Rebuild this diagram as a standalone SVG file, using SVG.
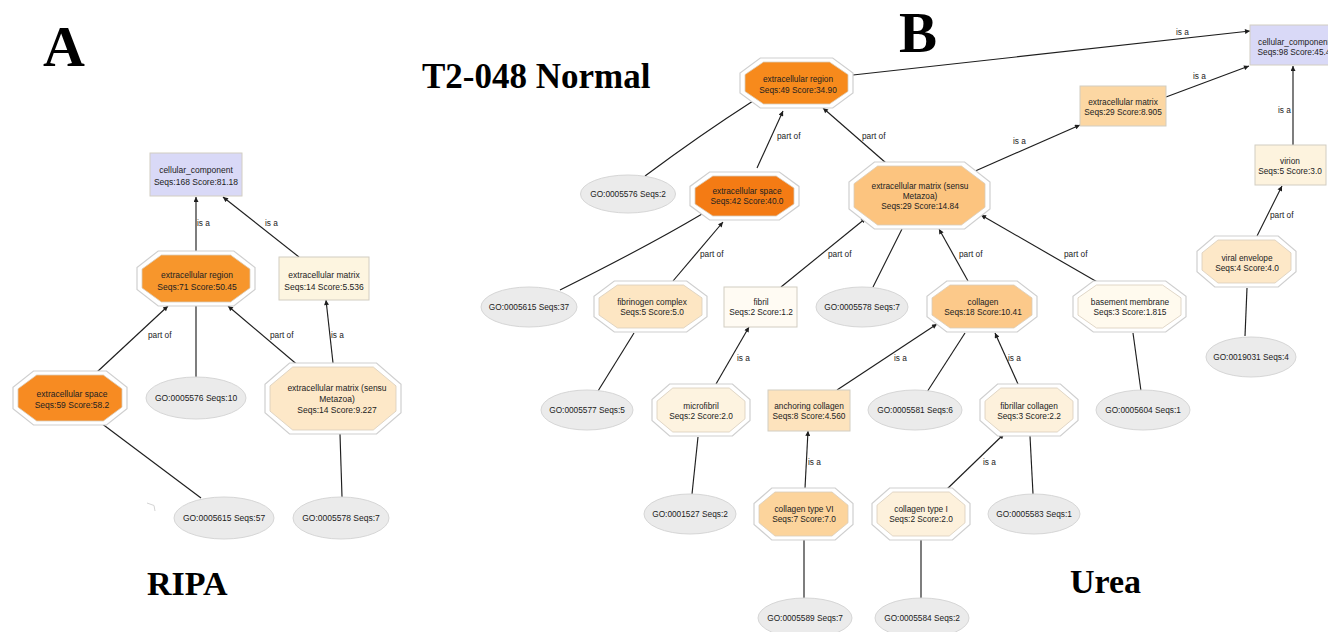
<svg xmlns="http://www.w3.org/2000/svg" width="1328" height="632" viewBox="0 0 1328 632">
  <style>
    .oo { fill: #ffffff; stroke: #cfcfcf; stroke-width: 1.2; }
    .oi { stroke: #d8cdbb; stroke-width: 0.8; }
    .box { stroke: #d2cdc2; stroke-width: 1; }
    .go { fill: #ebebeb; stroke: #d6d6d6; stroke-width: 1; }
    .t { font-family: "Liberation Sans", Arial, sans-serif; font-size: 8.3px; fill: #222; text-anchor: middle; }
    .a { font-size: 8.5px; }
    .lbl { font-family: "Liberation Sans", Arial, sans-serif; font-size: 8.3px; fill: #222; }
    .edge { fill: none; stroke: #1e1e1e; stroke-width: 1.15; }
    .arr { marker-end: url(#head); }
    .title { font-family: "Liberation Serif", "Times New Roman", serif; font-weight: bold; fill: #000; }
  </style>
  <defs>
    <marker id="head" viewBox="0 0 10 10" refX="10" refY="5" markerWidth="6.5" markerHeight="5" markerUnits="userSpaceOnUse" orient="auto">
      <path d="M0,0 L10,5 L0,10 z" fill="#1e1e1e"/>
    </marker>
  </defs>
  <rect width="1328" height="632" fill="#ffffff"/>

  <!-- panel headings -->
  <text class="title" x="43" y="66" font-size="58">A</text>
  <text class="title" x="899" y="52" font-size="57">B</text>
  <text class="title" x="422" y="88" font-size="35">T2-048 Normal</text>
  <text class="title" x="147" y="595" font-size="34">RIPA</text>
  <text class="title" x="1070" y="593" font-size="34">Urea</text>

  <!-- connectors -->
  <g id="connectors">
    <!-- panel A -->
    <path class="edge arr" d="M196,251 L196,197"/>
    <path class="edge arr" d="M299,257 L223,197"/>
    <path class="edge arr" d="M97,372 L168,306"/>
    <path class="edge" d="M196,377 L196,306"/>
    <path class="edge arr" d="M300,367 L228,306"/>
    <path class="edge arr" d="M333,363 L326,300"/>
    <path class="edge" d="M101,423 L201,498"/>
    <path class="edge" d="M340,434 L342,497"/>
    <text class="lbl" x="197" y="226">is a</text>
    <text class="lbl" x="265" y="226">is a</text>
    <text class="lbl" x="148" y="338">part of</text>
    <text class="lbl" x="270" y="338">part of</text>
    <text class="lbl" x="331" y="338">is a</text>
    <path d="M147,503 L154,505.5 L155,511" fill="none" stroke="#d4d4d4" stroke-width="1"/>

    <!-- panel B -->
    <path class="edge arr" d="M853,75 L1250,31"/>
    <path class="edge" d="M645,176 Q700,135 753,101"/>
    <path class="edge arr" d="M757,168 L783,111"/>
    <path class="edge arr" d="M886,163 L823,108"/>
    <path class="edge arr" d="M973,172 L1080,125"/>
    <path class="edge arr" d="M1166,97 L1249,66"/>
    <path class="edge arr" d="M1293,145 L1293,66"/>
    <path class="edge arr" d="M1257,236 L1282,186"/>
    <path class="edge" d="M1247,288 L1245,336"/>
    <path class="edge" d="M702,214 Q650,245 560,290"/>
    <path class="edge arr" d="M673,281 L723,222"/>
    <path class="edge" d="M634,333 L598,391"/>
    <path class="edge arr" d="M781,287 L866,218"/>
    <path class="edge" d="M873,287 L902,229"/>
    <path class="edge arr" d="M968,281 L939,229"/>
    <path class="edge arr" d="M1099,283 L981,215"/>
    <path class="edge arr" d="M716,384 L749,327"/>
    <path class="edge" d="M698,437 L692,494"/>
    <path class="edge arr" d="M837,390 L937,324"/>
    <path class="edge arr" d="M805,488 L808,431"/>
    <path class="edge" d="M804,540 L804,598"/>
    <path class="edge arr" d="M946,490 L1004,434"/>
    <path class="edge" d="M921,540 L921,598"/>
    <path class="edge" d="M965,333 L927,392"/>
    <path class="edge arr" d="M1018,384 L995,333"/>
    <path class="edge" d="M1030,436 L1033,494"/>
    <path class="edge" d="M1133,333 L1141,391"/>
    <text class="lbl" x="1176" y="35">is a</text>
    <text class="lbl" x="1193" y="79">is a</text>
    <text class="lbl" x="1278" y="113">is a</text>
    <text class="lbl" x="1013" y="144">is a</text>
    <text class="lbl" x="777" y="139">part of</text>
    <text class="lbl" x="862" y="139">part of</text>
    <text class="lbl" x="1270" y="218">part of</text>
    <text class="lbl" x="700" y="257">part of</text>
    <text class="lbl" x="828" y="257">part of</text>
    <text class="lbl" x="959" y="257">part of</text>
    <text class="lbl" x="1064" y="257">part of</text>
    <text class="lbl" x="737" y="361">is a</text>
    <text class="lbl" x="894" y="361">is a</text>
    <text class="lbl" x="1008" y="361">is a</text>
    <text class="lbl" x="808" y="465">is a</text>
    <text class="lbl" x="983" y="465">is a</text>
  </g>

  <!-- ===== panel A nodes ===== -->
  <g id="a-cellular-component">
    <rect class="box" x="150" y="153" width="92" height="43" fill="#d9d9f7" stroke="#c4c4d6"/>
    <text class="t a" x="196" y="173">cellular_component</text>
    <text class="t a" x="196" y="184.5">Seqs:168 Score:81.18</text>
  </g>
  <g id="a-extracellular-region">
    <polygon class="oo" points="158.2,251 233.8,251 255,267.5 255,289.5 233.8,306 158.2,306 137,289.5 137,267.5"/>
    <polygon class="oi" fill="#f7962c" points="161.4,255 230.6,255 250,269.1 250,287.9 230.6,302 161.4,302 142,287.9 142,269.1"/>
    <text class="t a" x="197" y="278">extracellular region</text>
    <text class="t a" x="197" y="290">Seqs:71 Score:50.45</text>
  </g>
  <g id="a-extracellular-matrix">
    <rect class="box" x="279" y="257" width="90" height="43" fill="#fdf5e0"/>
    <text class="t a" x="324" y="278">extracellular matrix</text>
    <text class="t a" x="324" y="290">Seqs:14 Score:5.536</text>
  </g>
  <g id="a-extracellular-space">
    <polygon class="oo" points="33.5,371 106.5,371 127,387.2 127,408.8 106.5,425 33.5,425 13,408.8 13,387.2"/>
    <polygon class="oi" fill="#f78b22" points="36.7,375 103.3,375 122,388.8 122,407.2 103.3,421 36.7,421 18,407.2 18,388.8"/>
    <text class="t a" x="72" y="397">extracellular space</text>
    <text class="t a" x="72" y="408">Seqs:59 Score:58.2</text>
  </g>
  <g id="a-go-0005576">
    <ellipse class="go" cx="196" cy="398" rx="50" ry="21"/>
    <text class="t a" x="196" y="401">GO:0005576 Seqs:10</text>
  </g>
  <g id="a-ecm-metazoa">
    <polygon class="oo" points="289.5,363 376.5,363 401,384.3 401,412.7 376.5,434 289.5,434 265,412.7 265,384.3"/>
    <polygon class="oi" fill="#fde8c8" points="292.7,367 373.3,367 396,385.9 396,411.1 373.3,430 292.7,430 270,411.1 270,385.9"/>
    <text class="t a" x="337" y="391">extracellular matrix (sensu</text>
    <text class="t a" x="337" y="402">Metazoa)</text>
    <text class="t a" x="337" y="412.5">Seqs:14 Score:9.227</text>
  </g>
  <g id="a-go-0005615">
    <ellipse class="go" cx="224" cy="518" rx="50" ry="21"/>
    <text class="t a" x="224" y="521">GO:0005615 Seqs:57</text>
  </g>
  <g id="a-go-0005578">
    <ellipse class="go" cx="341" cy="518" rx="48" ry="21"/>
    <text class="t a" x="341" y="521">GO:0005578 Seqs:7</text>
  </g>

  <!-- ===== panel B nodes ===== -->
  <g id="b-cellular-component">
    <rect class="box" x="1250" y="25" width="90" height="40" fill="#d9d9f7" stroke="#c4c4d6"/>
    <text class="t" x="1294" y="45">cellular_component</text>
    <text class="t" x="1294" y="55">Seqs:98 Score:45.4</text>
  </g>
  <g id="b-extracellular-region">
    <polygon class="oo" points="760.3,58 832.7,58 853,73 853,93 832.7,108 760.3,108 740,93 740,73"/>
    <polygon class="oi" fill="#f78a1c" points="763.5,62 829.5,62 848,74.6 848,91.4 829.5,104 763.5,104 745,91.4 745,74.6"/>
    <text class="t" x="798" y="82">extracellular region</text>
    <text class="t" x="798" y="93">Seqs:49 Score:34.90</text>
  </g>
  <g id="b-extracellular-matrix">
    <rect class="box" x="1080" y="86" width="86" height="40" fill="#fcd7a3"/>
    <text class="t" x="1123" y="105">extracellular matrix</text>
    <text class="t" x="1123" y="115">Seqs:29 Score:8.905</text>
  </g>
  <g id="b-virion">
    <rect class="box" x="1255" y="145" width="71" height="40" fill="#fdf3de"/>
    <text class="t" x="1290" y="164">virion</text>
    <text class="t" x="1290" y="174">Seqs:5 Score:3.0</text>
  </g>
  <g id="b-go-0005576">
    <ellipse class="go" cx="628" cy="194" rx="47.5" ry="19"/>
    <text class="t" x="628" y="197">GO:0005576 Seqs:2</text>
  </g>
  <g id="b-extracellular-space">
    <polygon class="oo" points="709.6,172 779.4,172 799,186.4 799,205.6 779.4,220 709.6,220 690,205.6 690,186.4"/>
    <polygon class="oi" fill="#f47b14" points="712.8,176 776.2,176 794,188 794,204 776.2,216 712.8,216 695,204 695,188"/>
    <text class="t" x="747" y="194">extracellular space</text>
    <text class="t" x="747" y="204">Seqs:42 Score:40.0</text>
  </g>
  <g id="b-ecm-metazoa">
    <polygon class="oo" points="874.4,162 964.6,162 990,182.1 990,208.9 964.6,229 874.4,229 849,208.9 849,182.1"/>
    <polygon class="oi" fill="#fcc47f" points="877.6,166 961.4,166 985,183.7 985,207.3 961.4,225 877.6,225 854,207.3 854,183.7"/>
    <text class="t" x="920" y="189">extracellular matrix (sensu</text>
    <text class="t" x="920" y="199">Metazoa)</text>
    <text class="t" x="920" y="209">Seqs:29 Score:14.84</text>
  </g>
  <g id="b-viral-envelope">
    <polygon class="oo" points="1214.8,236 1278.2,236 1296,251.3 1296,271.7 1278.2,287 1214.8,287 1197,271.7 1197,251.3"/>
    <polygon class="oi" fill="#fde8c8" points="1218,240 1275,240 1291,252.9 1291,270.1 1275,283 1218,283 1202,270.1 1202,252.9"/>
    <text class="t" x="1247" y="261">viral envelope</text>
    <text class="t" x="1247" y="271">Seqs:4 Score:4.0</text>
  </g>
  <g id="b-go-0005615">
    <ellipse class="go" cx="529" cy="307" rx="48" ry="20"/>
    <text class="t" x="529" y="310">GO:0005615 Seqs:37</text>
  </g>
  <g id="b-fibrinogen-complex">
    <polygon class="oo" points="614.3,281 686.7,281 707,296.3 707,316.7 686.7,332 614.3,332 594,316.7 594,296.3"/>
    <polygon class="oi" fill="#fde6c3" points="617.5,285 683.5,285 702,297.9 702,315.1 683.5,328 617.5,328 599,315.1 599,297.9"/>
    <text class="t" x="652" y="305">fibrinogen complex</text>
    <text class="t" x="652" y="315">Seqs:5 Score:5.0</text>
  </g>
  <g id="b-fibril">
    <rect class="box" x="724" y="287" width="73" height="40" fill="#fffbf3"/>
    <text class="t" x="761" y="305">fibril</text>
    <text class="t" x="761" y="315">Seqs:2 Score:1.2</text>
  </g>
  <g id="b-go-0005578">
    <ellipse class="go" cx="862" cy="307" rx="46" ry="20"/>
    <text class="t" x="862" y="310">GO:0005578 Seqs:7</text>
  </g>
  <g id="b-collagen">
    <polygon class="oo" points="946.8,281 1017.2,281 1037,296.3 1037,316.7 1017.2,332 946.8,332 927,316.7 927,296.3"/>
    <polygon class="oi" fill="#fcc98a" points="950,285 1014,285 1032,297.9 1032,315.1 1014,328 950,328 932,315.1 932,297.9"/>
    <text class="t" x="983" y="305">collagen</text>
    <text class="t" x="983" y="315">Seqs:18 Score:10.41</text>
  </g>
  <g id="b-basement-membrane">
    <polygon class="oo" points="1093.3,281 1165.7,281 1186,296.3 1186,316.7 1165.7,332 1093.3,332 1073,316.7 1073,296.3"/>
    <polygon class="oi" fill="#fffaee" points="1096.5,285 1162.5,285 1181,297.9 1181,315.1 1162.5,328 1096.5,328 1078,315.1 1078,297.9"/>
    <text class="t" x="1130" y="305">basement membrane</text>
    <text class="t" x="1130" y="315">Seqs:3 Score:1.815</text>
  </g>
  <g id="b-go-0019031">
    <ellipse class="go" cx="1251" cy="357" rx="45" ry="20"/>
    <text class="t" x="1251" y="360">GO:0019031 Seqs:4</text>
  </g>
  <g id="b-go-0005577">
    <ellipse class="go" cx="587" cy="410" rx="46" ry="20"/>
    <text class="t" x="587" y="413">GO:0005577 Seqs:5</text>
  </g>
  <g id="b-microfibril">
    <polygon class="oo" points="669.6,384 732.4,384 750,399.6 750,420.4 732.4,436 669.6,436 652,420.4 652,399.6"/>
    <polygon class="oi" fill="#fdf3e0" points="672.8,388 729.2,388 745,401.2 745,418.8 729.2,432 672.8,432 657,418.8 657,401.2"/>
    <text class="t" x="701" y="409">microfibril</text>
    <text class="t" x="701" y="419">Seqs:2 Score:2.0</text>
  </g>
  <g id="b-anchoring-collagen">
    <rect class="box" x="768" y="390" width="82" height="41" fill="#fde3bd"/>
    <text class="t" x="809" y="409">anchoring collagen</text>
    <text class="t" x="809" y="419">Seqs:8 Score:4.560</text>
  </g>
  <g id="b-go-0005581">
    <ellipse class="go" cx="915" cy="410" rx="47" ry="20"/>
    <text class="t" x="915" y="413">GO:0005581 Seqs:6</text>
  </g>
  <g id="b-fibrillar-collagen">
    <polygon class="oo" points="997.6,384 1060.4,384 1078,399.6 1078,420.4 1060.4,436 997.6,436 980,420.4 980,399.6"/>
    <polygon class="oi" fill="#fdf1dc" points="1000.8,388 1057.2,388 1073,401.2 1073,418.8 1057.2,432 1000.8,432 985,418.8 985,401.2"/>
    <text class="t" x="1029" y="409">fibrillar collagen</text>
    <text class="t" x="1029" y="419">Seqs:3 Score:2.2</text>
  </g>
  <g id="b-go-0005604">
    <ellipse class="go" cx="1143" cy="410" rx="47" ry="20"/>
    <text class="t" x="1143" y="413">GO:0005604 Seqs:1</text>
  </g>
  <g id="b-go-0001527">
    <ellipse class="go" cx="690" cy="514" rx="46" ry="20"/>
    <text class="t" x="690" y="517">GO:0001527 Seqs:2</text>
  </g>
  <g id="b-collagen-type-vi">
    <polygon class="oo" points="771.8,488 835.2,488 853,503.6 853,524.4 835.2,540 771.8,540 754,524.4 754,503.6"/>
    <polygon class="oi" fill="#fcd49c" points="775,492 832,492 848,505.2 848,522.8 832,536 775,536 759,522.8 759,505.2"/>
    <text class="t" x="804" y="512">collagen type VI</text>
    <text class="t" x="804" y="522">Seqs:7 Score:7.0</text>
  </g>
  <g id="b-collagen-type-i">
    <polygon class="oo" points="889.6,488 952.4,488 970,503.6 970,524.4 952.4,540 889.6,540 872,524.4 872,503.6"/>
    <polygon class="oi" fill="#fdf1dc" points="892.8,492 949.2,492 965,505.2 965,522.8 949.2,536 892.8,536 877,522.8 877,505.2"/>
    <text class="t" x="921" y="512">collagen type I</text>
    <text class="t" x="921" y="522">Seqs:2 Score:2.0</text>
  </g>
  <g id="b-go-0005583">
    <ellipse class="go" cx="1034" cy="514" rx="46" ry="20"/>
    <text class="t" x="1034" y="517">GO:0005583 Seqs:1</text>
  </g>
  <g id="b-go-0005589">
    <ellipse class="go" cx="805" cy="618" rx="47" ry="20"/>
    <text class="t" x="805" y="621">GO:0005589 Seqs:7</text>
  </g>
  <g id="b-go-0005584">
    <ellipse class="go" cx="922" cy="618" rx="47" ry="20"/>
    <text class="t" x="922" y="621">GO:0005584 Seqs:2</text>
  </g>
</svg>
